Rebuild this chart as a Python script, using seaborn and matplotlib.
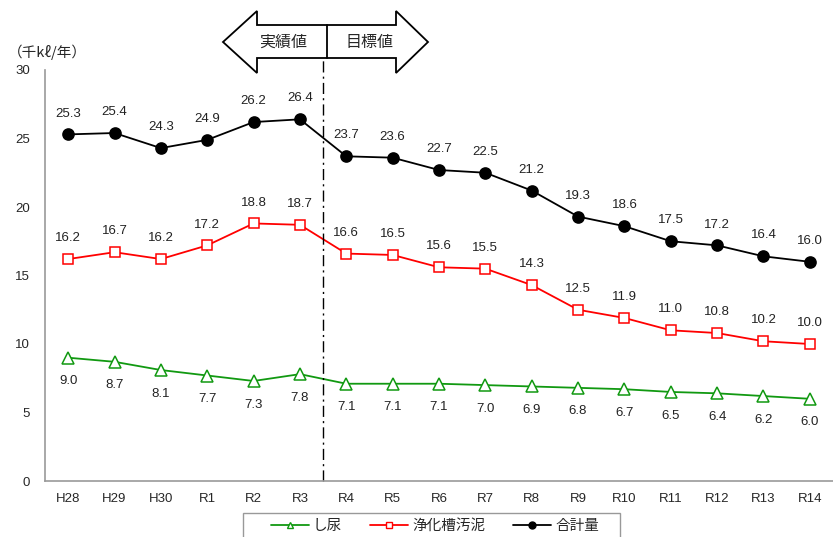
import matplotlib
matplotlib.use('Agg')
import seaborn as sns
import pandas as pd
import numpy as np
import matplotlib.pyplot as plt
from matplotlib.patches import Polygon, Rectangle
from matplotlib.lines import Line2D

years = ["H28", "H29", "H30", "R1", "R2", "R3", "R4", "R5", "R6", "R7",
         "R8", "R9", "R10", "R11", "R12", "R13", "R14"]
shinyo = [9.0, 8.7, 8.1, 7.7, 7.3, 7.8, 7.1, 7.1, 7.1, 7.0, 6.9, 6.8, 6.7, 6.5, 6.4, 6.2, 6.0]
jokaso = [16.2, 16.7, 16.2, 17.2, 18.8, 18.7, 16.6, 16.5, 15.6, 15.5, 14.3, 12.5, 11.9, 11.0, 10.8, 10.2, 10.0]
total = [25.3, 25.4, 24.3, 24.9, 26.2, 26.4, 23.7, 23.6, 22.7, 22.5, 21.2, 19.3, 18.6, 17.5, 17.2, 16.4, 16.0]

sns.set_style("white")
plt.rcParams['font.family'] = ['Liberation Sans', 'Noto Sans CJK JP', 'DejaVu Sans']

W, H = 833, 537
fig = plt.figure(figsize=(W / 100, H / 100), dpi=100)

def fx(px):
    return px / W

def fy(py):
    return 1 - py / H

ax = fig.add_axes([fx(45), fy(481), fx(833) - fx(45), (481 - 70) / H])

xpos = np.arange(len(years))
series = [
    ("し尿", shinyo, "#119911", "^", "white", 9, -17),
    ("浄化槽汚泥", jokaso, "#ff0000", "s", "white", 7, 15),
    ("合計量", total, "black", "o", "black", 8, 15),
]
handles = []
for name, vals, col, mk, fc, ms, off in series:
    sns.lineplot(x=xpos, y=vals, ax=ax, color=col, marker=mk, markersize=ms,
                 markerfacecolor=fc, markeredgecolor=col, markeredgewidth=1.1,
                 linewidth=1.3, label=None)
    for x, v in zip(xpos, vals):
        ax.annotate("%.1f" % v, (x, v), textcoords="offset points", xytext=(0, off),
                    ha="center", va="center", fontsize=9.5, color="#222222")
    handles.append(Line2D([0], [0], color=col, marker=mk, markersize=5,
                          markerfacecolor=fc, markeredgecolor=col, linewidth=1.3, label=name))

ax.set_xlim(-0.5, 16 + 16 / 46.8)
ax.set_ylim(0, 30)
ax.set_yticks(range(0, 31, 5))
ax.set_xticks(xpos)
ax.set_xticklabels(years)
ax.set_xticks(np.arange(-0.5, 17, 1), minor=True)
ax.tick_params(axis="x", which="major", length=0, pad=9, labelsize=9.5)
ax.tick_params(axis="x", which="minor", length=4, direction="out", color="#999999")
ax.tick_params(axis="y", length=4, direction="out", color="#999999", pad=7, labelsize=9.5)
for s in ["top", "right"]:
    ax.spines[s].set_visible(False)
for s in ["left", "bottom"]:
    ax.spines[s].set_color("#999999")
    ax.spines[s].set_linewidth(1.2)
ax.grid(False)
ax.set_xlabel("")
ax.set_ylabel("")

# divider between actual and target values
ax.axvline(5.5, ymin=0, ymax=(481 - 57) / 411, clip_on=False, color="black",
           linestyle=(0, (8, 3, 1.5, 3)), linewidth=1.0)

# double-headed arrow
pts = [(223, 42), (257, 11), (257, 25), (396, 25), (396, 11), (428, 42),
       (396, 73), (396, 58), (257, 58), (257, 73)]
arrow = Polygon([(fx(x), fy(y)) for x, y in pts], closed=True, transform=fig.transFigure,
                facecolor="white", edgecolor="black", linewidth=1.3)
fig.add_artist(arrow)
fig.add_artist(Line2D([fx(327), fx(327)], [fy(25), fy(58)], transform=fig.transFigure,
                      color="black", linewidth=1.3))
fig.text(fx(283), fy(42), "実績値", ha="center", va="center", fontsize=11.5)
fig.text(fx(370), fy(42), "目標値", ha="center", va="center", fontsize=11.5)

fig.text(fx(8), fy(52), "（千kℓ/年）", ha="left", va="center", fontsize=10.5,
         family=['Noto Sans CJK JP', 'DejaVu Sans'])

# legend box runs past the bottom edge
fig.add_artist(Rectangle((fx(243), fy(545)), fx(620) - fx(243), fy(513) - fy(545),
                         transform=fig.transFigure, facecolor="white",
                         edgecolor="#999999", linewidth=1.0))
leg = fig.legend(handles=handles, loc="center", bbox_to_anchor=(fx(435), fy(526)),
                 ncol=3, frameon=False, fontsize=10.5, handlelength=2.6,
                 handletextpad=0.3, columnspacing=1.9, borderpad=0, borderaxespad=0)

plt.savefig("out.png", dpi=100)
plt.close()
